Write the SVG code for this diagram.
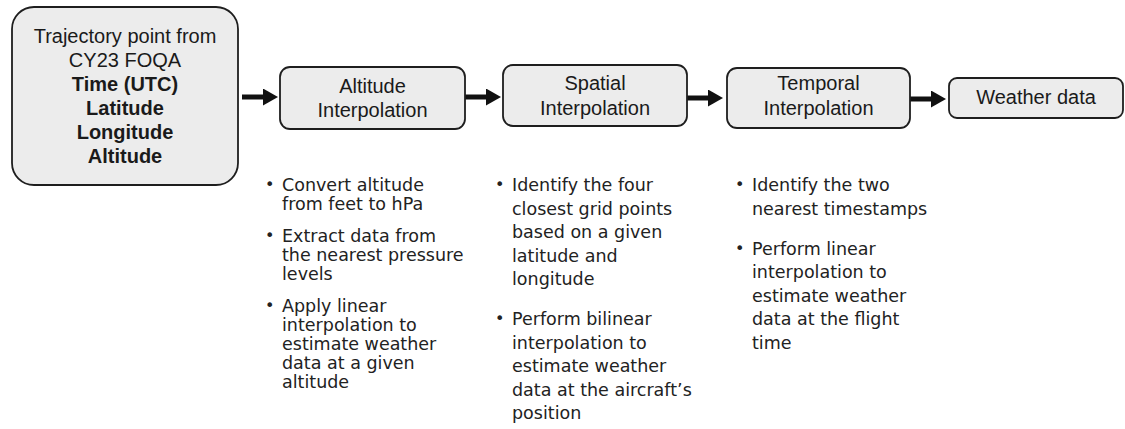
<svg xmlns="http://www.w3.org/2000/svg" width="1125" height="429" viewBox="0 0 1125 429">
<style>
.box{fill:#ececec;stroke:#1e1e1e;stroke-width:1.8}
.t{font-family:"Liberation Sans",Arial,sans-serif;font-size:20px;fill:#1a1a1a;text-anchor:middle}
.b{font-weight:bold}
.bl{font-family:"DejaVu Sans",Verdana,sans-serif;font-size:17.5px;fill:#222222}
.dot{font-family:"DejaVu Sans",Verdana,sans-serif;font-size:16px;fill:#222222}
.conn{stroke:#111;stroke-width:5;fill:none}
</style>
<defs>
<marker id="ah" markerUnits="userSpaceOnUse" viewBox="0 0 15 17" markerWidth="15" markerHeight="17" refX="0" refY="8.5" orient="auto">
<path d="M0,0 L15,8.5 L0,17 z" fill="#111"/>
</marker>
</defs>
<rect width="1125" height="429" fill="#ffffff"/>
<g id="connectors">
<line class="conn" x1="242" y1="97" x2="263" y2="97" marker-end="url(#ah)"/>
<line class="conn" x1="465" y1="97" x2="486" y2="97" marker-end="url(#ah)"/>
<line class="conn" x1="687" y1="98" x2="708" y2="98" marker-end="url(#ah)"/>
<line class="conn" x1="910" y1="99" x2="931" y2="99" marker-end="url(#ah)"/>
</g>
<g id="trajectory">
<rect class="box" x="12" y="7" width="226" height="178" rx="22"/>
<text class="t" x="125" y="43">Trajectory point from</text>
<text class="t" x="125" y="67">CY23 FOQA</text>
<text class="t b" x="125" y="91">Time (UTC)</text>
<text class="t b" x="125" y="115">Latitude</text>
<text class="t b" x="125" y="139">Longitude</text>
<text class="t b" x="125" y="163">Altitude</text>
</g>
<g id="altitude">
<rect class="box" x="280" y="67" width="185" height="62" rx="10"/>
<text class="t" x="372.5" y="93">Altitude</text>
<text class="t" x="372.5" y="117">Interpolation</text>
</g>
<g id="spatial">
<rect class="box" x="503" y="65" width="184" height="61" rx="10"/>
<text class="t" x="595" y="90">Spatial</text>
<text class="t" x="595" y="115">Interpolation</text>
</g>
<g id="temporal">
<rect class="box" x="727" y="68" width="183" height="60" rx="10"/>
<text class="t" x="818.5" y="90">Temporal</text>
<text class="t" x="818.5" y="115">Interpolation</text>
</g>
<g id="weather">
<rect class="box" x="949" y="78" width="174" height="40" rx="8"/>
<text class="t" x="1036" y="104">Weather data</text>
</g>
<g id="altitude-notes">
<text class="dot" x="265" y="190">•</text>
<text class="bl" x="282" y="191">Convert altitude</text>
<text class="bl" x="282" y="210">from feet to hPa</text>
<text class="dot" x="265" y="241">•</text>
<text class="bl" x="282" y="242">Extract data from</text>
<text class="bl" x="282" y="261">the nearest pressure</text>
<text class="bl" x="282" y="280">levels</text>
<text class="dot" x="265" y="311">•</text>
<text class="bl" x="282" y="312">Apply linear</text>
<text class="bl" x="282" y="331">interpolation to</text>
<text class="bl" x="282" y="350">estimate weather</text>
<text class="bl" x="282" y="369">data at a given</text>
<text class="bl" x="282" y="388">altitude</text>
</g>
<g id="spatial-notes">
<text class="dot" x="495" y="190">•</text>
<text class="bl" x="512" y="191">Identify the four</text>
<text class="bl" x="512" y="214.5">closest grid points</text>
<text class="bl" x="512" y="238">based on a given</text>
<text class="bl" x="512" y="261.5">latitude and</text>
<text class="bl" x="512" y="285">longitude</text>
<text class="dot" x="495" y="324">•</text>
<text class="bl" x="512" y="325">Perform bilinear</text>
<text class="bl" x="512" y="348.5">interpolation to</text>
<text class="bl" x="512" y="372">estimate weather</text>
<text class="bl" x="512" y="395.5">data at the aircraft’s</text>
<text class="bl" x="512" y="419">position</text>
</g>
<g id="temporal-notes">
<text class="dot" x="735" y="190">•</text>
<text class="bl" x="752" y="191">Identify the two</text>
<text class="bl" x="752" y="214.5">nearest timestamps</text>
<text class="dot" x="735" y="253.5">•</text>
<text class="bl" x="752" y="254.5">Perform linear</text>
<text class="bl" x="752" y="278">interpolation to</text>
<text class="bl" x="752" y="301.5">estimate weather</text>
<text class="bl" x="752" y="325">data at the flight</text>
<text class="bl" x="752" y="348.5">time</text>
</g>
</svg>
